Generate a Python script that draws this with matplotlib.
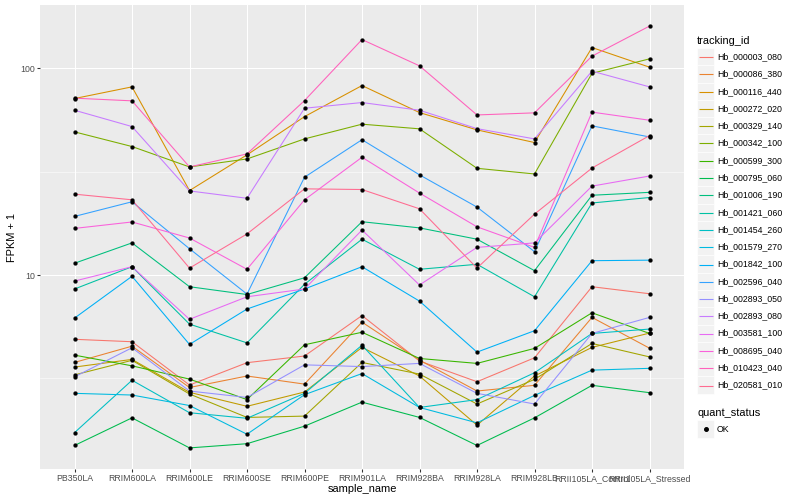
import numpy as np
import matplotlib
matplotlib.use("Agg")
import matplotlib.pyplot as plt
from matplotlib.ticker import FixedLocator, NullFormatter
from matplotlib.patches import Rectangle
from matplotlib.lines import Line2D

plt.rcParams['font.family'] = ['Liberation Sans', 'DejaVu Sans']

samples = ["PB350LA", "RRIM600LA", "RRIM600LE", "RRIM600SE", "RRIM600PE",
           "RRIM901LA", "RRIM928BA", "RRIM928LA", "RRIM928LB",
           "RRII105LA_Control", "RRII105LA_Stressed"]

tracking_ids = ["Hb_000003_080", "Hb_000086_380", "Hb_000116_440", "Hb_000272_020",
                "Hb_000329_140", "Hb_000342_100", "Hb_000599_300", "Hb_000795_060",
                "Hb_001006_190", "Hb_001421_060", "Hb_001454_260", "Hb_001579_270",
                "Hb_001842_100", "Hb_002596_040", "Hb_002893_050", "Hb_002893_080",
                "Hb_003581_100", "Hb_008695_040", "Hb_010423_040", "Hb_020581_010"]

# FPKM + 1 per sample (same order as samples)
hb_000003_080 = [4.89, 4.76, 2.94, 3.77, 4.06, 6.37, 3.84, 3.05, 3.98, 8.78, 8.12]
hb_000086_380 = [3.78, 4.53, 2.86, 3.25, 2.97, 5.92, 3.88, 2.75, 2.93, 6.24, 4.43]
hb_000116_440 = [71.3, 81.2, 25.6, 38.1, 58.3, 82.4, 61.0, 50.3, 43.7, 125.8, 101.1]
hb_000272_020 = [3.59, 3.91, 2.71, 2.32, 2.72, 4.47, 3.25, 1.88, 3.25, 4.47, 5.24]
hb_000329_140 = [3.29, 3.87, 2.66, 2.05, 2.08, 3.78, 3.32, 2.38, 3.13, 4.67, 4.02]
hb_000342_100 = [49.2, 41.8, 33.3, 36.4, 45.5, 53.6, 50.9, 32.8, 30.8, 94.4, 110.9]
hb_000599_300 = [4.10, 3.64, 3.14, 2.50, 4.60, 5.29, 3.95, 3.74, 4.42, 6.57, 5.22]
hb_000795_060 = [1.50, 2.04, 1.46, 1.53, 1.86, 2.43, 2.05, 1.50, 2.04, 2.93, 2.70]
hb_001006_190 = [11.4, 14.3, 8.78, 8.05, 9.70, 18.1, 16.9, 14.9, 10.5, 24.3, 25.1]
hb_001421_060 = [8.56, 10.97, 5.79, 4.70, 9.02, 14.9, 10.66, 11.27, 7.85, 22.3, 23.7]
hb_001454_260 = [1.73, 3.10, 2.16, 2.03, 2.68, 4.58, 2.29, 2.50, 3.37, 5.22, 5.48]
hb_001579_270 = [2.68, 2.63, 2.34, 1.70, 2.64, 3.34, 2.29, 1.93, 2.62, 3.47, 3.54]
hb_001842_100 = [6.19, 9.86, 4.62, 6.85, 8.56, 10.97, 7.48, 4.24, 5.38, 11.73, 11.8]
hb_002596_040 = [19.2, 22.6, 13.4, 8.09, 29.7, 45.1, 30.5, 21.3, 12.97, 52.6, 46.5]
hb_002893_050 = [3.22, 4.45, 2.75, 2.56, 3.68, 3.61, 3.74, 2.68, 2.38, 5.22, 6.24]
hb_002893_080 = [62.6, 52.2, 25.5, 23.5, 64.0, 68.2, 62.6, 51.0, 45.5, 96.7, 81.2]
hb_003581_100 = [9.35, 10.97, 6.11, 7.85, 8.56, 16.5, 8.95, 13.6, 14.3, 26.9, 30.1]
hb_008695_040 = [16.8, 18.05, 15.1, 10.66, 23.1, 37.1, 24.9, 17.1, 13.6, 61.3, 56.0]
hb_010423_040 = [71.6, 69.5, 33.3, 38.5, 69.7, 137.5, 102.6, 59.4, 60.8, 114.3, 159.7]
hb_020581_010 = [24.6, 23.1, 10.8, 15.8, 26.1, 25.9, 20.9, 10.8, 19.7, 32.9, 47.2]

series = [hb_000003_080, hb_000086_380, hb_000116_440, hb_000272_020, hb_000329_140,
          hb_000342_100, hb_000599_300, hb_000795_060, hb_001006_190, hb_001421_060,
          hb_001454_260, hb_001579_270, hb_001842_100, hb_002596_040, hb_002893_050,
          hb_002893_080, hb_003581_100, hb_008695_040, hb_010423_040, hb_020581_010]

quant_status = ["OK"]

colors = ["#F8766D", "#EA8331", "#D89000", "#C09B00", "#A3A500", "#7CAE00", "#39B600",
          "#00BB4E", "#00BF7D", "#00C1A3", "#00BFC4", "#00BAE0", "#00B0F6", "#35A2FF",
          "#9590FF", "#C77CFF", "#E76BF3", "#FA62DB", "#FF62BC", "#FF6C91"]

W, H = 800, 500
DPI = 72
fig = plt.figure(figsize=(W / DPI, H / DPI), dpi=DPI)
fig.patch.set_facecolor("white")

pl, pr, pt, pb = 40, 684, 5, 469
ax = fig.add_axes([pl / W, 1 - pb / H, (pr - pl) / W, (pb - pt) / H])
ax.set_facecolor("#EBEBEB")
for s in ax.spines.values():
    s.set_visible(False)

x = np.arange(len(samples))
for vals, c in zip(series, colors):
    ax.plot(x, vals, color=c, lw=1.07, zorder=2, solid_capstyle="butt")
for vals in series:
    ax.plot(x, vals, linestyle="none", marker="o", markersize=3.9,
            markerfacecolor="black", markeredgecolor="black", markeredgewidth=0.3, zorder=3)

ax.set_yscale("log")
allv = np.log10(np.concatenate([np.asarray(v, float) for v in series]))
lo, hi = allv.min(), allv.max()
pad = 0.05 * (hi - lo)
ax.set_ylim(10 ** (lo - pad), 10 ** (hi + pad))
ax.set_xlim(-0.6, len(samples) - 0.4)

ax.set_xticks(x)
ax.set_xticklabels(samples)
ax.yaxis.set_major_locator(FixedLocator([1, 10, 100, 1000]))
ax.yaxis.set_minor_locator(FixedLocator([10 ** 0.5, 10 ** 1.5, 10 ** 2.5]))
ax.yaxis.set_minor_formatter(NullFormatter())
ax.set_yticklabels(["1", "10", "100", "1000"])
ax.tick_params(axis="both", which="major", length=2.75, width=1.07, color="#333333",
               labelcolor="#4D4D4D", labelsize=8.8, pad=2.2)
ax.tick_params(axis="y", which="minor", length=0)
ax.grid(True, which="major", color="white", lw=1.07)
ax.grid(True, which="minor", axis="y", color="white", lw=0.53)
ax.set_axisbelow(True)

ax.set_xlabel("sample_name", fontsize=11, color="black", va="center")
ax.xaxis.set_label_coords(0.5, -(489 - pb) / (pb - pt))
ax.set_ylabel("FPKM + 1", fontsize=11, color="black", va="center")
ax.yaxis.set_label_coords(-(pl - 12) / (pr - pl), 0.5)

# legend (drawn in figure pixel coordinates)
def fx(px):
    return px / W

def fy(py):
    return 1 - py / H

key = 17.28
lx = 697
fig.text(fx(lx), fy(40.5), "tracking_id", fontsize=11, va="center", ha="left")
y0 = 56.7
for i, (name, c) in enumerate(zip(tracking_ids, colors)):
    yc = y0 + i * key
    yl = np.floor(yc) + 0.5
    fig.add_artist(Rectangle((fx(lx), fy(yc + key / 2)), key / W, key / H,
                             transform=fig.transFigure, facecolor="#F2F2F2",
                             edgecolor="white", lw=0.6, zorder=1))
    fig.add_artist(Line2D([fx(lx + 1.7), fx(lx + key - 1.7)], [fy(yl), fy(yl)],
                          transform=fig.transFigure, color=c, lw=1.1, zorder=3,
                          solid_capstyle="butt"))
    fig.text(fx(717), fy(yc), name, fontsize=8.8, va="center", ha="left")

fig.text(fx(lx), fy(412.5), "quant_status", fontsize=11, va="center", ha="left")
yc = 429
fig.add_artist(Rectangle((fx(lx), fy(yc + key / 2)), key / W, key / H,
                         transform=fig.transFigure, facecolor="#F2F2F2",
                         edgecolor="white", lw=0.6, zorder=1))
fig.add_artist(Line2D([fx(lx + key / 2)], [fy(yc)], transform=fig.transFigure,
                      marker="o", markersize=3.9, color="black", linestyle="none", zorder=3))
fig.text(fx(717), fy(yc), quant_status[0], fontsize=8.8, va="center", ha="left")

fig.savefig("out.png", dpi=DPI)
